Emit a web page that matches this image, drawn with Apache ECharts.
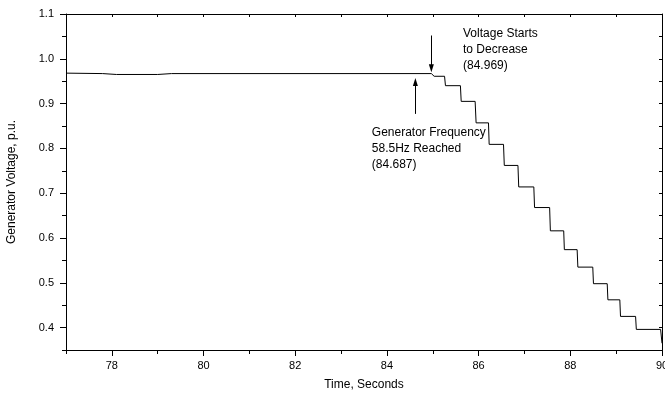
<!DOCTYPE html>
<html>
<head>
<meta charset="utf-8">
<script src="https://cdn.jsdelivr.net/npm/echarts@6/dist/echarts.min.js"></script>
<style>
  html, body { margin: 0; padding: 0; background: #fff; }
  #chart { width: 665px; height: 396px; }
</style>
</head>
<body>
<div id="chart"></div>
<script>
// Generator terminal voltage (p.u.) against simulation time (s)
const time = [77, 77.8, 78.1, 79.0, 79.3, 84.969, 85.03, 85.257, 85.277, 85.603, 85.62,
  85.924, 85.945, 86.215, 86.23, 86.543, 86.56, 86.858, 86.875, 87.204, 87.22,
  87.549, 87.565, 87.856, 87.87, 88.149, 88.165, 88.49, 88.505, 88.805, 88.82,
  89.08, 89.095, 89.424, 89.44, 89.97, 90.0];
const voltage = [0.968, 0.967, 0.965, 0.965, 0.967, 0.967, 0.961, 0.961, 0.940, 0.940, 0.905,
  0.905, 0.857, 0.857, 0.809, 0.809, 0.762, 0.762, 0.714, 0.714, 0.668,
  0.668, 0.616, 0.616, 0.574, 0.574, 0.535, 0.535, 0.498, 0.498, 0.462,
  0.462, 0.425, 0.425, 0.396, 0.396, 0.365];

// Tick positions
const xMajorTicks = [78, 80, 82, 84, 86, 88, 90];
const xMinorTicks = [77, 79, 81, 83, 85, 87, 89];
const yMajorTicks = [0.4, 0.5, 0.6, 0.7, 0.8, 0.9, 1.0, 1.1];
const yMinorTicks = [0.35, 0.45, 0.55, 0.65, 0.75, 0.85, 0.95, 1.05];

// Annotation arrows: [time, from voltage, to voltage]
const decreaseArrow = [84.969, 1.052, 0.979];
const frequencyArrow = [84.62, 0.877, 0.948];

// Annotation text blocks: anchor [time, voltage] of the first line, then lines
const decreaseNote = { at: [85.66, 1.075], lines: ['Voltage Starts', 'to Decrease', '(84.969)'] };
const frequencyNote = { at: [83.67, 0.854], lines: ['Generator Frequency', '58.5Hz Reached', '(84.687)'] };

const FONT = '"Liberation Sans", Arial, sans-serif';
const INK = '#000';

const chart = echarts.init(document.getElementById('chart'), null, { renderer: 'canvas' });

const xBase = { type: 'value', min: 77, max: 90, splitLine: { show: false } };
const yBase = { type: 'value', min: 0.35, max: 1.1, splitLine: { show: false } };

chart.setOption({
  animation: false,
  backgroundColor: '#fff',
  grid: { left: 66, right: 3, top: 14, bottom: 46, containLabel: false, outerBoundsMode: 'none' },
  xAxis: [
    Object.assign({}, xBase, {
      position: 'bottom',
      name: 'Time, Seconds', nameLocation: 'middle', nameGap: 29,
      nameTextStyle: { fontFamily: FONT, fontSize: 12, color: INK },
      axisLine: { show: true, lineStyle: { color: INK, width: 1 } },
      axisTick: { show: true, inside: false, length: 6, customValues: xMajorTicks, lineStyle: { color: INK } },
      axisLabel: { show: true, margin: 10, customValues: xMajorTicks, fontFamily: FONT, fontSize: 11, color: INK }
    }),
    Object.assign({}, xBase, {
      position: 'bottom',
      axisLine: { show: false },
      axisTick: { show: true, inside: false, length: 4, customValues: xMinorTicks, lineStyle: { color: INK } },
      axisLabel: { show: false }
    }),
    Object.assign({}, xBase, {
      position: 'top', interval: 1,
      axisLine: { show: true, lineStyle: { color: INK, width: 1 } },
      axisTick: { show: true, inside: true, length: 3, lineStyle: { color: INK } },
      axisLabel: { show: false }
    })
  ],
  yAxis: [
    Object.assign({}, yBase, {
      position: 'left',
      name: 'Generator Voltage, p.u.', nameLocation: 'middle', nameGap: 48,
      nameTextStyle: { fontFamily: FONT, fontSize: 12, color: INK },
      axisLine: { show: true, lineStyle: { color: INK, width: 1 } },
      axisTick: { show: true, inside: false, length: 6, customValues: yMajorTicks, lineStyle: { color: INK } },
      axisLabel: {
        show: true, margin: 12, customValues: yMajorTicks, fontFamily: FONT, fontSize: 11, color: INK,
        formatter: v => v.toFixed(1)
      }
    }),
    Object.assign({}, yBase, {
      position: 'left',
      axisLine: { show: false },
      axisTick: { show: true, inside: false, length: 4, customValues: yMinorTicks, lineStyle: { color: INK } },
      axisLabel: { show: false }
    }),
    Object.assign({}, yBase, {
      position: 'right', interval: 0.05,
      axisLine: { show: true, lineStyle: { color: INK, width: 1 } },
      axisTick: { show: true, inside: true, length: 3, lineStyle: { color: INK } },
      axisLabel: { show: false }
    })
  ],
  series: [{
    type: 'line',
    xAxisIndex: 0,
    yAxisIndex: 0,
    data: time.map((t, i) => [t, voltage[i]]),
    showSymbol: false,
    clip: true,
    lineStyle: { color: INK, width: 1 },
    markLine: {
      silent: true,
      symbol: ['none', 'triangle'],
      symbolSize: [5, 8],
      label: { show: false },
      lineStyle: { color: INK, width: 1, type: 'solid' },
      data: [
        [{ coord: [decreaseArrow[0], decreaseArrow[1]] }, { coord: [decreaseArrow[0], decreaseArrow[2]] }],
        [{ coord: [frequencyArrow[0], frequencyArrow[1]] }, { coord: [frequencyArrow[0], frequencyArrow[2]] }]
      ]
    }
  }]
});

// Place the annotation text blocks at their data anchors
function noteGraphic(note) {
  const p = chart.convertToPixel({ xAxisIndex: 0, yAxisIndex: 0 }, note.at);
  return {
    type: 'text',
    left: p[0],
    top: p[1],
    silent: true,
    style: {
      text: note.lines.join('\n'),
      fontFamily: FONT,
      fontSize: 12,
      lineHeight: 16,
      fill: INK
    }
  };
}
chart.setOption({ graphic: [noteGraphic(decreaseNote), noteGraphic(frequencyNote)] });
</script>
</body>
</html>
